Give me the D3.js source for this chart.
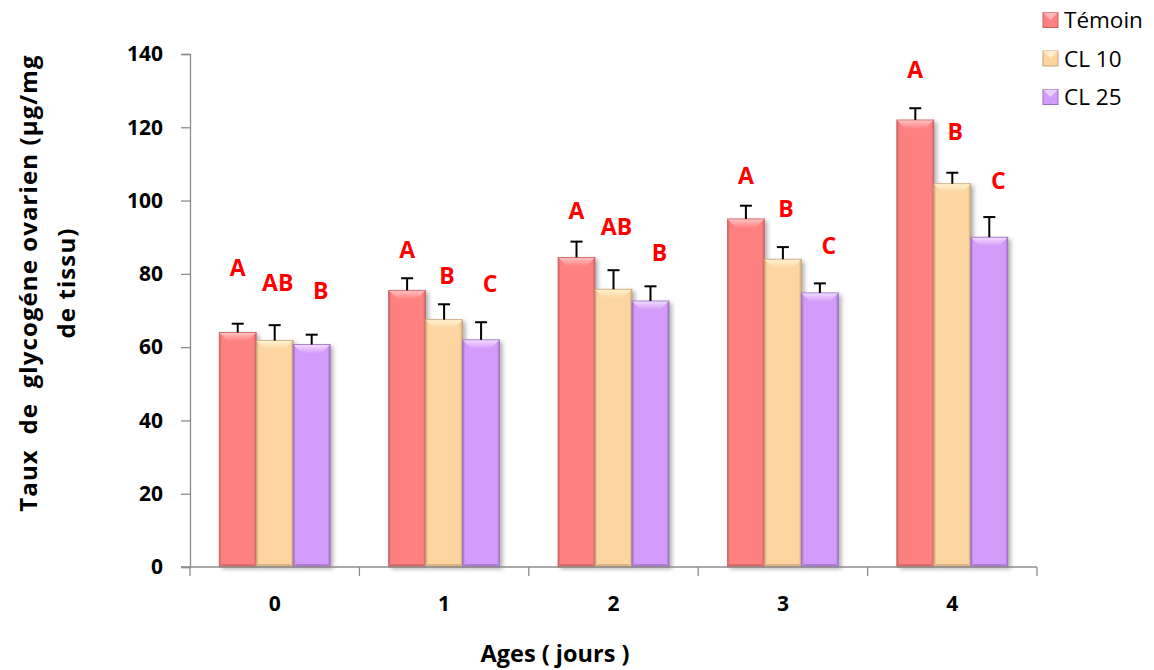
<!DOCTYPE html>
<html>
<head>
<meta charset="utf-8">
<script src="https://cdn.jsdelivr.net/npm/d3@7"></script>
<style>
  body { margin: 0; background: #fff; }
  svg { font-family: "Open Sans", sans-serif; }
</style>
</head>
<body>
<svg id="chart" width="1154" height="670"></svg>
<script>
// data
const ages = ["0", "1", "2", "3", "4"];
const series = ["Témoin", "CL 10", "CL 25"];
const temoin = [64, 75.5, 84.5, 95, 122];
const cl10 = [61.8, 67.5, 75.8, 84, 104.6];
const cl25 = [60.7, 62, 72.6, 74.8, 90];
const errTemoin = [2.4, 3.3, 4.3, 3.6, 3.2];
const errCl10 = [4.2, 4.2, 5.2, 3.3, 3.0];
const errCl25 = [2.7, 4.8, 4.0, 2.6, 5.5];
const letTemoin = ["A", "A", "A", "A", "A"];
const letCl10 = ["AB", "B", "AB", "B", "B"];
const letCl25 = ["B", "C", "B", "C", "C"];
// label heights, in data units
const letPosTemoin = [81.6, 86.7, 97.1, 106.7, 135.6];
const letPosCl10 = [77.7, 79.4, 93, 97.9, 118.7];
const letPosCl25 = [75.3, 77.2, 85.7, 87.8, 105.3];
const yTicks = [0, 20, 40, 60, 80, 100, 120, 140];

const values = [temoin, cl10, cl25];
const errors = [errTemoin, errCl10, errCl25];
const letters = [letTemoin, letCl10, letCl25];
const letPos = [letPosTemoin, letPosCl10, letPosCl25];

const colors = [
  {base: "#FF8080", light: "#FFC4C4", dark: "#C76262"},
  {base: "#FCD5A0", light: "#FFF4D2", dark: "#C9A579"},
  {base: "#D49CFA", light: "#F2DDFF", dark: "#9A6FC0"}
];
const letterDx = [0, 3, 9];

const svg = d3.select("#chart");
const plotLeft = 190, plotRight = 1037, plotTop = 54, plotBottom = 567;

const x0 = d3.scaleBand().domain(ages).range([plotLeft, plotRight]);
const x1 = d3.scaleBand().domain(series).range([0, x0.bandwidth()]).paddingOuter(0.79);
const y = d3.scaleLinear().domain([0, 140]).range([plotBottom, plotTop]);

// defs: gradients and shadow
const defs = svg.append("defs");
colors.forEach(function(c, i) {
  const g = defs.append("linearGradient").attr("id", "grad" + i)
      .attr("x1", "0").attr("x2", "1").attr("y1", "0").attr("y2", "0");
  g.append("stop").attr("offset", "0").attr("stop-color", c.dark);
  g.append("stop").attr("offset", "0.07").attr("stop-color", c.base);
  g.append("stop").attr("offset", "0.93").attr("stop-color", c.base);
  g.append("stop").attr("offset", "1").attr("stop-color", c.dark);
  const t = defs.append("linearGradient").attr("id", "top" + i)
      .attr("x1", "0").attr("x2", "0").attr("y1", "0").attr("y2", "1");
  t.append("stop").attr("offset", "0").attr("stop-color", c.light);
  t.append("stop").attr("offset", "1").attr("stop-color", c.base);
});
const f = defs.append("filter").attr("id", "shadow")
    .attr("x", "-20%").attr("y", "-5%").attr("width", "150%").attr("height", "115%");
f.append("feDropShadow").attr("dx", 3).attr("dy", 2).attr("stdDeviation", 2)
    .attr("flood-color", "#000").attr("flood-opacity", 0.3);

// y axis
const yAxis = svg.append("g")
    .attr("transform", "translate(" + plotLeft + ",0)")
    .call(d3.axisLeft(y).tickValues(yTicks).tickSize(9).tickPadding(18));
yAxis.select(".domain").attr("stroke", "#8c8c8c").attr("stroke-width", 1.3);
yAxis.selectAll(".tick line").attr("stroke", "#8c8c8c").attr("stroke-width", 1.3);
yAxis.selectAll("text").attr("font-size", 21).attr("font-weight", "bold")
    .attr("fill", "#000").attr("font-family", "'Open Sans', sans-serif");

// bars
const groups = svg.append("g").selectAll("g")
    .data(ages)
    .enter().append("g")
    .attr("transform", d => "translate(" + x0(d) + ",0)");

series.forEach(function(s, si) {
  groups.each(function(age, ai) {
    const g = d3.select(this);
    const v = values[si][ai];
    const bx = x1(s), bw = x1.bandwidth(), by = y(v), bh = plotBottom - y(v);
    const b = 9;
    const c = colors[si];
    g.append("rect")
        .attr("x", bx).attr("y", by).attr("width", bw).attr("height", bh)
        .attr("fill", "url(#grad" + si + ")")
        .attr("filter", "url(#shadow)");
    // top bevel
    g.append("path")
        .attr("d", "M" + bx + "," + by + "L" + (bx + bw) + "," + by +
          "L" + (bx + bw - b) + "," + (by + b) + "L" + (bx + b) + "," + (by + b) + "Z")
        .attr("fill", "url(#top" + si + ")");
    // bottom bevel
    g.append("path")
        .attr("d", "M" + bx + "," + plotBottom + "L" + (bx + bw) + "," + plotBottom +
          "L" + (bx + bw - 3) + "," + (plotBottom - 3) + "L" + (bx + 3) + "," + (plotBottom - 3) + "Z")
        .attr("fill", c.dark).attr("opacity", 0.7);
    g.append("rect")
        .attr("x", bx).attr("y", by).attr("width", bw).attr("height", bh)
        .attr("fill", "none").attr("stroke", c.dark).attr("stroke-width", 0.8);

    // error bar
    const cx = bx + bw / 2;
    const et = y(v + errors[si][ai]);
    g.append("line").attr("x1", cx).attr("x2", cx).attr("y1", by).attr("y2", et)
        .attr("stroke", "#000").attr("stroke-width", 2);
    g.append("line").attr("x1", cx - 6).attr("x2", cx + 6).attr("y1", et).attr("y2", et)
        .attr("stroke", "#000").attr("stroke-width", 2);

    // letter
    g.append("text")
        .attr("x", cx + letterDx[si])
        .attr("y", y(letPos[si][ai]))
        .attr("dy", "0.36em")
        .attr("text-anchor", "middle")
        .attr("font-size", 23).attr("font-weight", "bold")
        .attr("fill", "#FF0000")
        .text(letters[si][ai]);
  });
});

// x axis
const xAxis = svg.append("g")
    .attr("transform", "translate(0," + plotBottom + ")")
    .call(d3.axisBottom(x0).tickSize(0).tickPadding(29));
xAxis.select(".domain").attr("stroke", "#8c8c8c").attr("stroke-width", 1.3)
    .attr("d", "M" + (plotLeft - 9) + ",0H" + plotRight);
xAxis.selectAll("text").attr("font-size", 21).attr("font-weight", "bold")
    .attr("fill", "#000").attr("font-family", "'Open Sans', sans-serif");
xAxis.selectAll(".sep")
    .data(ages.concat(["end"]))
    .enter().append("line")
    .attr("x1", (d, i) => plotLeft + i * x0.step())
    .attr("x2", (d, i) => plotLeft + i * x0.step())
    .attr("y1", 0).attr("y2", 9)
    .attr("stroke", "#8c8c8c").attr("stroke-width", 1.3);

// axis titles
svg.append("text")
    .attr("x", 555).attr("y", 662)
    .attr("text-anchor", "middle")
    .attr("font-size", 23.5).attr("font-weight", "bold")
    .text("Ages ( jours )");

const yt = svg.append("text")
    .attr("transform", "translate(37,283) rotate(-90)")
    .attr("text-anchor", "middle")
    .attr("font-size", 24).attr("font-weight", "bold")
    .attr("letter-spacing", 1.1);
yt.append("tspan").attr("x", 0).attr("y", 0).attr("xml:space", "preserve")
    .text("Taux  de  glycogéne ovarien (µg/mg");
yt.append("tspan").attr("x", 0).attr("y", 38).text("de tissu)");

// legend
const legend = svg.append("g").selectAll("g")
    .data(series)
    .enter().append("g")
    .attr("transform", (d, i) => "translate(1043," + (20 + i * 38.5) + ")");
legend.append("rect")
    .attr("x", 0).attr("y", -7.5).attr("width", 15).attr("height", 15)
    .attr("fill", (d, i) => colors[i].base)
    .attr("stroke", (d, i) => colors[i].dark).attr("stroke-width", 1);
legend.append("path")
    .attr("d", "M0,-7.5L15,-7.5L7.5,0Z")
    .attr("fill", (d, i) => colors[i].light).attr("opacity", 0.8);
legend.append("text")
    .attr("x", 21).attr("y", 0).attr("dy", "0.36em")
    .attr("font-size", 22.5)
    .text(d => d);
</script>
</body>
</html>
